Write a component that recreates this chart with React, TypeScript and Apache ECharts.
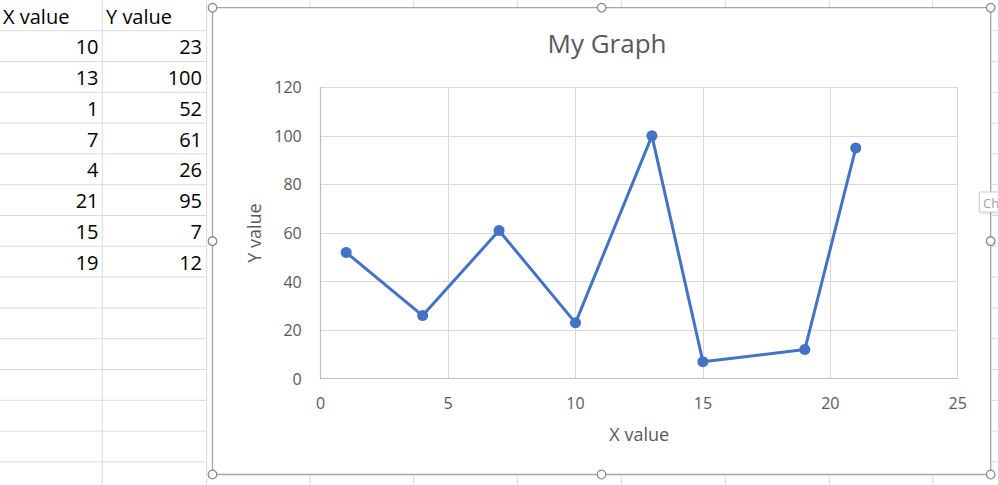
import React, { useEffect, useRef } from "react";
import * as echarts from "echarts";

// ---- data (as in the sheet) ----
const xValues = [10, 13, 1, 7, 4, 21, 15, 19];
const yValues = [23, 100, 52, 61, 26, 95, 7, 12];
const headers = ["X value", "Y value"];
const chartTitle = "My Graph";
const xTicks = { min: 0, max: 25, interval: 5 };
const yTicks = { min: 0, max: 120, interval: 20 };

// sheet geometry
const rowH = 30.8;
const firstRowLine = 30.7;
const rowCount = 15;
const colLines = [102.3, 206.7, 310, 413.7, 517.3, 621.3, 725.3, 829.3, 932.7];

const FR = { x1: 212.5, y1: 7.7, x2: 990.7, y2: 474.5 };

export default function App() {
  const ref = useRef<HTMLDivElement>(null);
  useEffect(() => {
    if (!ref.current) return;
    const chart = echarts.init(ref.current, undefined, { renderer: "svg" });

    const pairs = xValues.map((x, i) => [x, yValues[i]]).sort((a, b) => a[0] - b[0]);

    const sheetLine = "#dadada";
    const g: any[] = [];
    const rows: number[] = [];
    for (let k = 0; k < rowCount; k++) rows.push(firstRowLine + k * rowH);
    rows.forEach((y) => {
      g.push({ type: "line", shape: { x1: 0, y1: y, x2: 206.7, y2: y }, style: { stroke: sheetLine, lineWidth: 1 }, silent: true });
      g.push({ type: "line", shape: { x1: 992, y1: y, x2: 998, y2: y }, style: { stroke: sheetLine, lineWidth: 1 }, silent: true });
    });
    colLines.forEach((x) => {
      if (x < FR.x1) {
        g.push({ type: "line", shape: { x1: x, y1: 0, x2: x, y2: 485 }, style: { stroke: sheetLine, lineWidth: 1 }, silent: true });
      } else {
        g.push({ type: "line", shape: { x1: x, y1: 0, x2: x, y2: FR.y1 - 0.5 }, style: { stroke: sheetLine, lineWidth: 1 }, silent: true });
        g.push({ type: "line", shape: { x1: x, y1: FR.y2 + 1.5, x2: x, y2: 485 }, style: { stroke: sheetLine, lineWidth: 1 }, silent: true });
      }
    });
    const cellFont = '20px "Open Sans", sans-serif';
    g.push({ type: "text", x: 3, y: 16, style: { text: headers[0], font: cellFont, fill: "#000", textVerticalAlign: "middle" } });
    g.push({ type: "text", x: 106, y: 16, style: { text: headers[1], font: cellFont, fill: "#000", textVerticalAlign: "middle" } });
    xValues.forEach((x, i) => {
      const cy = firstRowLine + rowH * i + rowH / 2 + 0.5;
      g.push({ type: "text", x: 98.5, y: cy, style: { text: String(x), font: cellFont, fill: "#000", textAlign: "right", textVerticalAlign: "middle" } });
      g.push({ type: "text", x: 202, y: cy, style: { text: String(yValues[i]), font: cellFont, fill: "#000", textAlign: "right", textVerticalAlign: "middle" } });
    });
    // chart frame
    g.push({ type: "rect", shape: { x: FR.x1, y: FR.y1, width: FR.x2 - FR.x1, height: FR.y2 - FR.y1 }, style: { fill: "none", stroke: "#a6a6a6", lineWidth: 1.3 }, silent: true });
    // "Ch" tooltip box
    g.push({ type: "rect", shape: { x: 979.5, y: 192, width: 22, height: 20 }, style: { fill: "#fff", stroke: "#cfcfcf", lineWidth: 1, shadowBlur: 2, shadowColor: "rgba(0,0,0,0.15)", shadowOffsetY: 1 }, z: 10 });
    g.push({ type: "text", x: 983, y: 202.5, z: 11, style: { text: "Ch", font: '13px "Open Sans", sans-serif', fill: "#a0a0a0", textVerticalAlign: "middle" } });
    // handles
    const mx = (FR.x1 + FR.x2) / 2;
    const my = (FR.y1 + FR.y2) / 2;
    [
      [FR.x1, FR.y1], [mx, FR.y1], [FR.x2, FR.y1],
      [FR.x1, my], [FR.x2, my],
      [FR.x1, FR.y2], [mx, FR.y2], [FR.x2, FR.y2],
    ].forEach(([cx, cy]) => {
      g.push({ type: "circle", z: 12, shape: { cx, cy, r: 4.3 }, style: { fill: "#fff", stroke: "#8a8a8a", lineWidth: 1.3 } });
    });

    const labelColor = "#595959";
    chart.setOption({
      animation: false,
      backgroundColor: "#fff",
      title: {
        text: chartTitle,
        left: 602,
        top: 25,
        textAlign: "center",
        textStyle: { fontFamily: '"Open Sans", sans-serif', fontSize: 26, fontWeight: "normal", color: labelColor },
      },
      grid: { left: 320.7, top: 87.3, right: 998 - 957.7, bottom: 485 - 378.7, containLabel: false },
      xAxis: {
        type: "value",
        min: xTicks.min,
        max: xTicks.max,
        interval: xTicks.interval,
        name: "X value",
        nameLocation: "middle",
        nameGap: 46,
        nameTextStyle: { fontFamily: '"Open Sans", sans-serif', fontSize: 18, color: labelColor },
        axisLine: { show: true, lineStyle: { color: "#bfbfbf", width: 1.2 } },
        axisTick: { show: false },
        axisLabel: { color: labelColor, fontFamily: '"Open Sans", sans-serif', fontSize: 16, margin: 16 },
        splitLine: { show: true, lineStyle: { color: "#d9d9d9", width: 1 } },
      },
      yAxis: {
        type: "value",
        min: yTicks.min,
        max: yTicks.max,
        interval: yTicks.interval,
        name: "Y value",
        nameLocation: "middle",
        nameRotate: 90,
        nameGap: 57,
        nameTextStyle: { fontFamily: '"Open Sans", sans-serif', fontSize: 18, color: labelColor },
        axisLine: { show: true, lineStyle: { color: "#bfbfbf", width: 1.2 } },
        axisTick: { show: false },
        axisLabel: { color: labelColor, fontFamily: '"Open Sans", sans-serif', fontSize: 16, margin: 19 },
        splitLine: { show: true, lineStyle: { color: "#d9d9d9", width: 1 } },
      },
      series: [
        {
          type: "line",
          data: pairs,
          symbol: "circle",
          symbolSize: 11,
          showSymbol: true,
          lineStyle: { color: "#4472C4", width: 3 },
          itemStyle: { color: "#4472C4" },
          z: 3,
        },
      ],
      graphic: g,
    });
    return () => chart.dispose();
  }, []);
  return <div ref={ref} style={{ position: "fixed", left: 0, top: 0, width: 998, height: 485 }} />;
}
